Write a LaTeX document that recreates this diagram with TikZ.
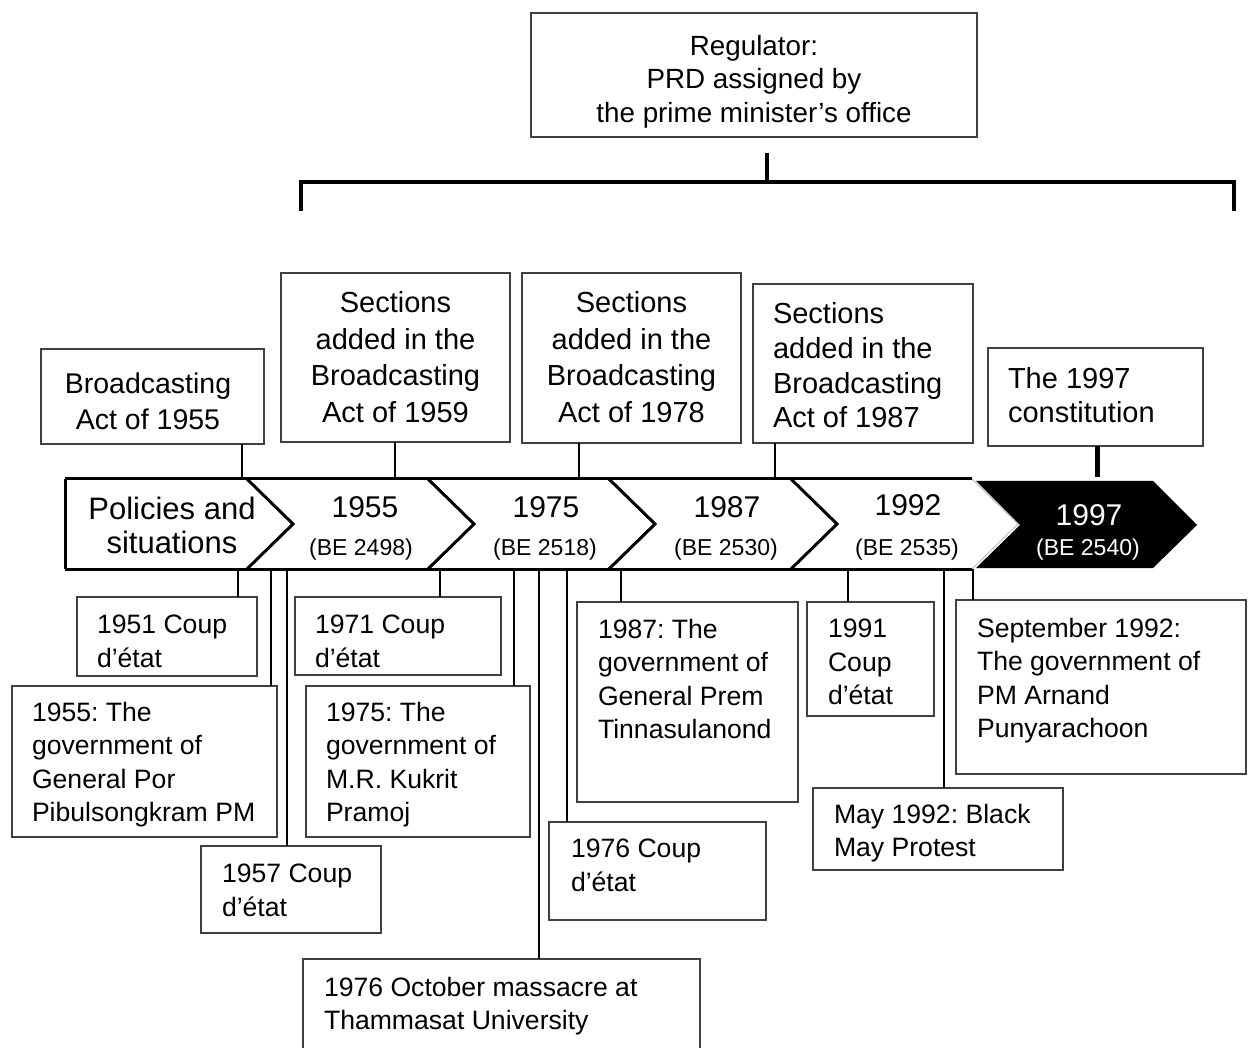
\documentclass[tikz,border=0pt]{standalone}
\usepackage{fontspec}
\setmainfont{Liberation Sans}
\frenchspacing
% font sizes (in pt, one unit = 1pt)
\newcommand\fReg{\fontsize{27.8}{33.5}\selectfont}
\newcommand\fUp{\fontsize{29}{36.6}\selectfont}
\newcommand\fUpB{\fontsize{29}{34.7}\selectfont}
\newcommand\fActA{\fontsize{28.5}{36}\selectfont}
\newcommand\fLow{\fontsize{26.6}{33.3}\selectfont}
\newcommand\fBar{\fontsize{31}{34}\selectfont}
\newcommand\fYear{\fontsize{30}{34}\selectfont}
\newcommand\fBE{\fontsize{23}{28}\selectfont}
% rectangle given by left, top, right, bottom
\newcommand\tbox[5]{\node[box, minimum width={(#4-#2)*1pt}, minimum height={(#5-#3)*1pt}, anchor=north west] (#1) at (#2,#3) {};}
\begin{document}
\begin{tikzpicture}[x=1pt,y=-1pt,
  box/.style={draw=black!75, line width=1.3pt, fill=white, inner sep=0pt, outer sep=0pt},
  txt/.style={inner sep=0pt, outer sep=0pt, text=black},
  conn/.style={draw=black, line width=2.2pt},
  thickconn/.style={draw=black, line width=5pt},
  barline/.style={draw=black, line width=3pt, line join=miter},
  bracket/.style={draw=black, line width=4pt, line join=miter}]
\useasboundingbox (0,0) rectangle (1251,1048);

% ---------- regulator and bracket ----------
\tbox{reg}{531}{13}{977}{137}
\node[txt, align=center, anchor=north, font=\fReg] (regt) at (754,35)
  {Regulator:\\PRD assigned by\\the prime minister’s office};
\coordinate (stemtop) at (767,153);
\coordinate (stembot) at (767,182);
\coordinate (brl) at (301,211);
\coordinate (brr) at (1234,211);
\draw[bracket] (stemtop) -- (stembot);
\draw[bracket] (brl) -- (brl |- stembot) -- (brr |- stembot) -- (brr);

% ---------- timeline bar ----------
\coordinate (bt) at (0,479);
\coordinate (bb) at (0,569);
\draw[barline] (65,479) -- (972,479);
\draw[barline] (65,569) -- (972,569);
\draw[barline] (65,479) -- (65,569);
\foreach \cx in {247,428,609,791}
  \draw[barline] (\cx,479) -- (\cx+46,524) -- (\cx,569);
\draw[draw=black!30, line width=0.8pt] (972,479) -- (1018,524) -- (972,569);
\fill[black] (976,481) -- (1153,481) -- (1197,525) -- (1153,568) -- (976,568) -- (1020,525) -- cycle;

\node[txt, align=center, anchor=north, font=\fBar] (seg0) at (172,496.8) {Policies and\\situations};
\node[txt, anchor=base, font=\fYear] (y1) at (365,517.7) {1955};
\node[txt, anchor=base, font=\fBE] (be1) at (361,555.2) {(BE 2498)};
\node[txt, anchor=base, font=\fYear] (y2) at (546,517.7) {1975};
\node[txt, anchor=base, font=\fBE] (be2) at (545,555.2) {(BE 2518)};
\node[txt, anchor=base, font=\fYear] (y3) at (727,517.7) {1987};
\node[txt, anchor=base, font=\fBE] (be3) at (726,555.2) {(BE 2530)};
\node[txt, anchor=base, font=\fYear] (y4) at (908,515.7) {1992};
\node[txt, anchor=base, font=\fBE] (be4) at (907,555.2) {(BE 2535)};
\node[txt, anchor=base, font=\fYear, text=white] (y5) at (1089,525.7) {1997};
\node[txt, anchor=base, font=\fBE, text=white] (be5) at (1088,555.2) {(BE 2540)};

% ---------- acts above the bar ----------
\tbox{a1}{41}{349}{264}{444}
\node[txt, align=center, anchor=north, font=\fActA] (a1t) at (148,373) {Broadcasting\\Act of 1955};
\tbox{a2}{281}{273}{510}{442}
\node[txt, align=center, anchor=north, font=\fUp] (a2t) at (395.5,291.6) {Sections\\added in the\\Broadcasting\\Act of 1959};
\tbox{a3}{522}{273}{741}{443}
\node[txt, align=center, anchor=north, font=\fUp] (a3t) at (631.5,291.6) {Sections\\added in the\\Broadcasting\\Act of 1978};
\tbox{a4}{753}{284}{973}{443}
\node[txt, align=left, anchor=north west, font=\fUpB] (a4t) at (773,302.6) {Sections\\added in the\\Broadcasting\\Act of 1987};
\tbox{a5}{988}{348}{1203}{446}
\node[txt, align=left, anchor=north west, font=\fontsize{29}{34}\selectfont] (a5t) at (1008,367.6) {The 1997\\constitution};

\coordinate (ka1) at (242,479);
\coordinate (ka2) at (395,479);
\coordinate (ka3) at (579,479);
\coordinate (ka4) at (775,479);
\coordinate (ka5) at (1097,477);
\draw[conn] (a1.south -| ka1) -- (ka1);
\draw[conn] (a2.south -| ka2) -- (ka2);
\draw[conn] (a3.south -| ka3) -- (ka3);
\draw[conn] (a4.south -| ka4) -- (ka4);
\draw[thickconn] (a5.south -| ka5) -- (ka5);

% ---------- events below the bar ----------
\coordinate (k1) at (238,569);
\coordinate (k2) at (271,569);
\coordinate (k3) at (287,569);
\coordinate (k4) at (440,569);
\coordinate (k5) at (514,569);
\coordinate (k6) at (539,569);
\coordinate (k7) at (567,569);
\coordinate (k8) at (621,569);
\coordinate (k9) at (848,569);
\coordinate (k10) at (944,569);
\coordinate (k11) at (973,569);

\tbox{l1}{77}{597}{257}{676}
\tbox{l2}{12}{686}{277}{837}
\tbox{l3}{201}{846}{381}{933}
\tbox{l4}{295}{597}{501}{675}
\tbox{l5}{306}{686}{530}{837}
\tbox{l6}{303}{959}{700}{1062}
\tbox{l7}{549}{822}{766}{920}
\tbox{l8}{577}{602}{798}{802}
\tbox{l9}{807}{602}{934}{716}
\tbox{l10}{813}{788}{1063}{870}
\tbox{l11}{956}{600}{1246}{774}

\draw[conn] (k1) -- (k1 |- l1.north);
\draw[conn] (k2) -- (k2 |- l2.north);
\draw[conn] (k3) -- (k3 |- l3.north);
\draw[conn] (k4) -- (k4 |- l4.north);
\draw[conn] (k5) -- (k5 |- l5.north);
\draw[conn] (k6) -- (k6 |- l6.north);
\draw[conn] (k7) -- (k7 |- l7.north);
\draw[conn] (k8) -- (k8 |- l8.north);
\draw[conn] (k9) -- (k9 |- l9.north);
\draw[conn] (k10) -- (k10 |- l10.north);
\draw[conn] (k11) -- (k11 |- l11.north);

\node[txt, align=left, anchor=north west, font=\fLow] (l1t) at (97,615.4) {1951 Coup\\d’état};
\node[txt, align=left, anchor=north west, font=\fLow] (l2t) at (32,702.4) {1955: The\\government of\\General Por\\Pibulsongkram PM};
\node[txt, align=left, anchor=north west, font=\fLow] (l3t) at (222,864.4) {1957 Coup\\d’état};
\node[txt, align=left, anchor=north west, font=\fLow] (l4t) at (315,615.4) {1971 Coup\\d’état};
\node[txt, align=left, anchor=north west, font=\fLow] (l5t) at (326,702.4) {1975: The\\government of\\M.R. Kukrit\\Pramoj};
\node[txt, align=left, anchor=north west, font=\fLow] (l6t) at (324,977.4) {1976 October massacre at\\Thammasat University};
\node[txt, align=left, anchor=north west, font=\fLow] (l7t) at (571,839.4) {1976 Coup\\d’état};
\node[txt, align=left, anchor=north west, font=\fLow] (l8t) at (598,619.4) {1987: The\\government of\\General Prem\\Tinnasulanond};
\node[txt, align=left, anchor=north west, font=\fLow] (l9t) at (828,619.4) {1991\\Coup\\d’état};
\node[txt, align=left, anchor=north west, font=\fLow] (l10t) at (834,804.4) {May 1992: Black\\May Protest};
\node[txt, align=left, anchor=north west, font=\fLow] (l11t) at (977,618.4) {September 1992:\\The government of\\PM Arnand\\Punyarachoon};
\end{tikzpicture}
\end{document}
